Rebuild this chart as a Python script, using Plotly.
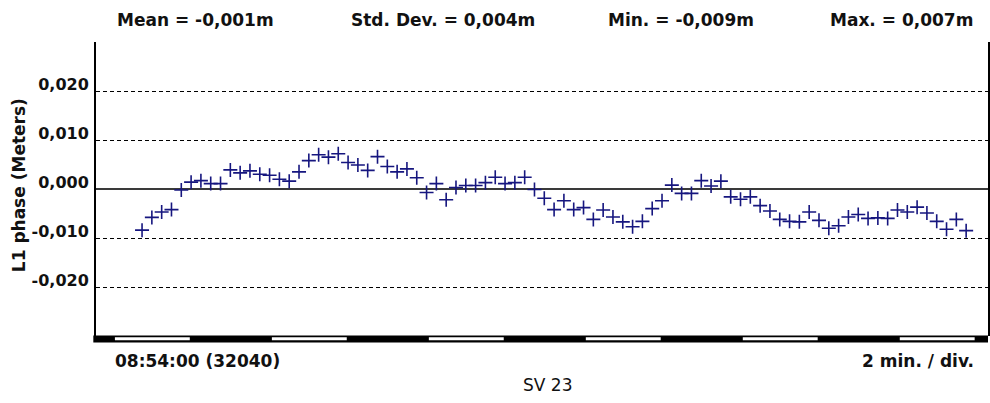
import plotly.graph_objects as go

# Epoch times (seconds of day) at a 15 s rate, starting after 08:54:00 (32040 s)
start_sod = 32040
epoch_sod = [32086 + 15 * i for i in range(85)]

# L1 carrier phase residuals (metres)
l1_phase = [
    -0.0084, -0.0058, -0.0047, -0.0042, -0.0002, 0.0014, 0.0017, 0.0011, 0.0011, 0.0039,
    0.0033, 0.0037, 0.0030, 0.0028, 0.0020, 0.0016, 0.0035, 0.0058, 0.0070, 0.0065,
    0.0072, 0.0054, 0.0049, 0.0038, 0.0066, 0.0046, 0.0035, 0.0041, 0.0023, -0.0007,
    0.0011, -0.0022, 0.0003, 0.0007, 0.0007, 0.0013, 0.0024, 0.0011, 0.0013, 0.0024,
    -0.0001, -0.0019, -0.0042, -0.0024, -0.0042, -0.0038, -0.0062, -0.0043, -0.0057, -0.0067,
    -0.0077, -0.0066, -0.0040, -0.0024, 0.0008, -0.0009, -0.0009, 0.0017, 0.0006, 0.0016,
    -0.0016, -0.0021, -0.0016, -0.0034, -0.0045, -0.0062, -0.0066, -0.0067, -0.0047, -0.0064,
    -0.0080, -0.0075, -0.0057, -0.0052, -0.0060, -0.0059, -0.0060, -0.0043, -0.0047, -0.0037,
    -0.0049, -0.0066, -0.0082, -0.0062, -0.0085,
]

y_ticks = [-0.020, -0.010, 0.000, 0.010, 0.020]
y_tick_text = ["-0,020", "-0,010", "0,000", "0,010", "0,020"]

stats_text = ["Mean = -0,001m", "Std. Dev. = 0,004m", "Min. = -0,009m", "Max. = 0,007m"]
start_label = "08:54:00 (32040)"
scale_label = "2 min. / div."
sat_label = "SV 23"

div_seconds = 120
x_range = [32015.6, 33379.4]

navy = "#16167f"
bold_font = dict(family="DejaVu Sans", size=17, color="#111111", weight="bold")

fig = go.Figure()
fig.add_trace(go.Scatter(
    x=epoch_sod, y=l1_phase, mode="markers",
    marker=dict(symbol="cross-thin", size=10, color=navy,
                line=dict(width=1.6, color=navy)),
    showlegend=False, hoverinfo="skip",
))

# Time-division bar along the bottom: black strip with white stripes on every other division
shapes = [dict(type="rect", xref="paper", yref="paper", x0=-0.003, x1=1.0,
               y0=-6.5 / 294, y1=0.5 / 294, fillcolor="black", line_width=0, layer="above")]
k = 0
while start_sod + k * div_seconds < x_range[1]:
    t0 = start_sod + k * div_seconds
    shapes.append(dict(type="rect", xref="x", yref="paper",
                       x0=t0 + 4.5, x1=min(t0 + div_seconds - 1, x_range[1]),
                       y0=-4.2 / 294, y1=-1.2 / 294,
                       fillcolor="white", line_width=0, layer="above"))
    k += 2

annotations = []
stat_pos = [(0.0213, "left"), (0.2841, "left"), (0.7394, "right"), (0.9855, "right")]
for txt, (xp, anchor) in zip(stats_text, stat_pos):
    annotations.append(dict(text=txt, xref="paper", yref="paper", x=xp, y=1.0748,
                            xanchor=anchor, yanchor="middle", showarrow=False, font=bold_font))
annotations += [
    dict(text=start_label, xref="paper", yref="paper", x=0.019, y=-0.085,
         xanchor="left", yanchor="middle", showarrow=False, font=bold_font),
    dict(text=scale_label, xref="paper", yref="paper", x=0.9866, y=-0.085,
         xanchor="right", yanchor="middle", showarrow=False, font=bold_font),
    dict(text=sat_label, xref="paper", yref="paper", x=0.5067, y=-0.167,
         xanchor="center", yanchor="middle", showarrow=False,
         font=dict(family="DejaVu Sans", size=17, color="#111111")),
    dict(text="L1 phase (Meters)", xref="paper", yref="paper", x=-0.0861, y=0.5136,
         xanchor="center", yanchor="middle", textangle=-90, showarrow=False, font=bold_font),
]

fig.update_layout(
    width=990, height=403,
    margin=dict(l=96, r=0, t=42, b=67),
    paper_bgcolor="white", plot_bgcolor="white",
    shapes=shapes, annotations=annotations,
    xaxis=dict(range=x_range, showgrid=False, zeroline=False, showticklabels=False,
               ticks="", showline=False, fixedrange=True),
    yaxis=dict(range=[-0.030, 0.030], tickvals=y_ticks, ticktext=y_tick_text,
               tickfont=dict(family="DejaVu Sans", size=16, color="#111111", weight="bold"),
               ticks="", ticklabelshift=-7, ticklabelstandoff=2,
               showgrid=True, gridcolor="black", gridwidth=1, griddash="4px,3px",
               zeroline=True, zerolinecolor="#3a3a3a", zerolinewidth=1.6,
               showline=True, linecolor="black", linewidth=2, mirror=True),
)

fig.write_html("out.html")
